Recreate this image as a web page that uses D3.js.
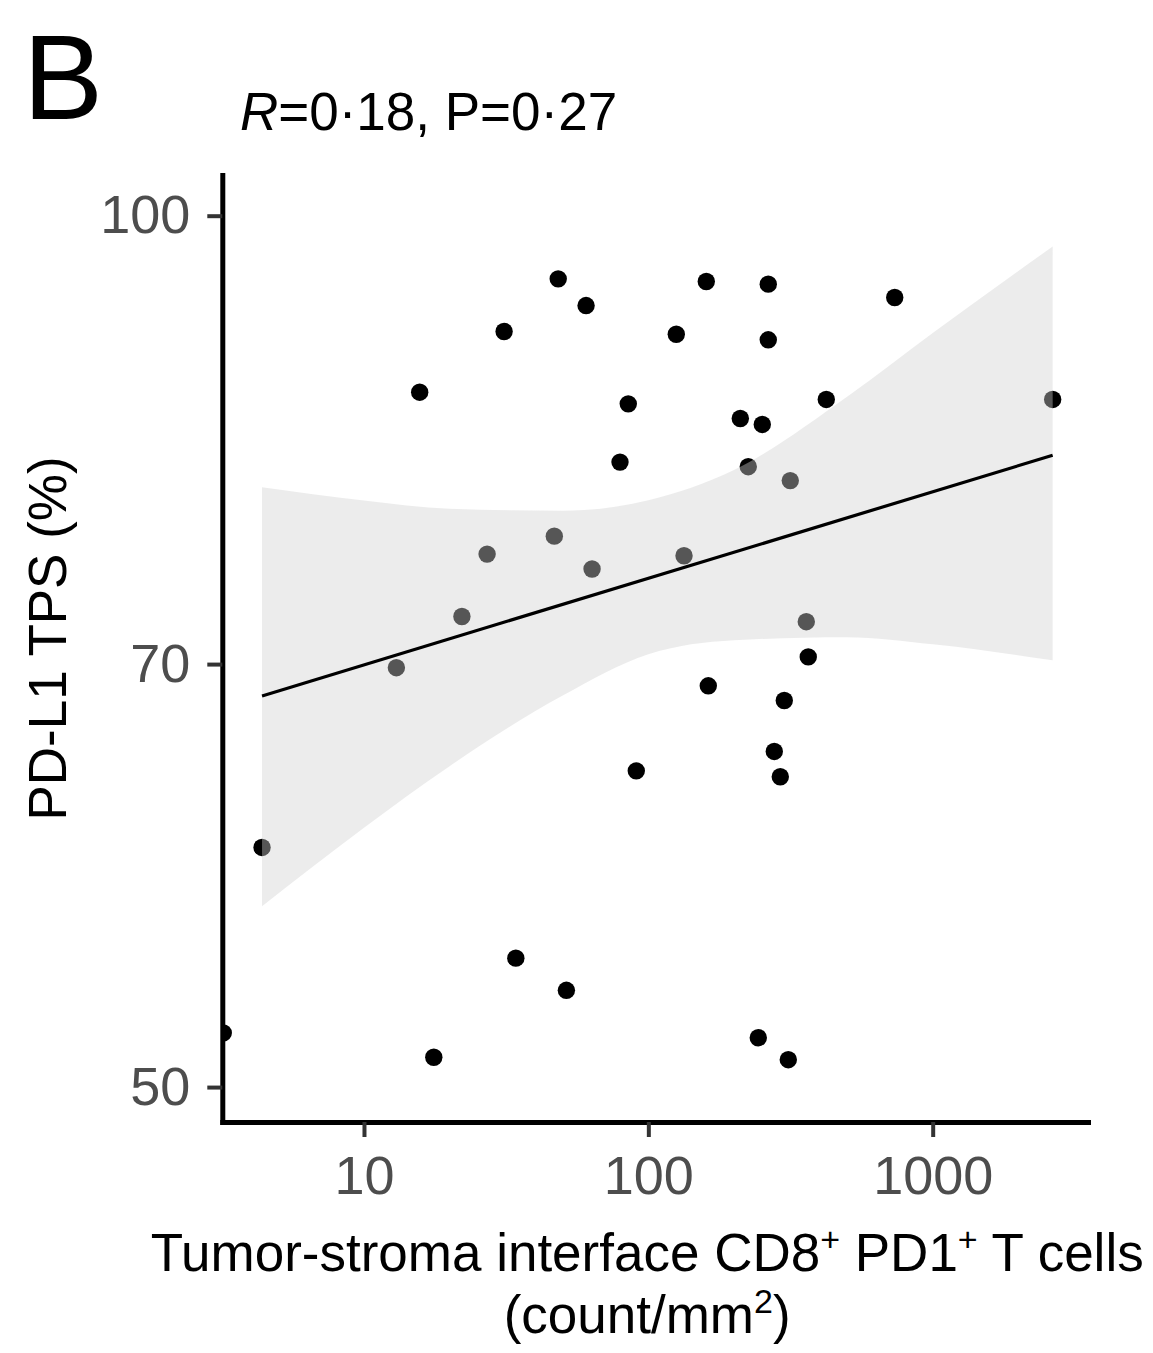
<!DOCTYPE html>
<html>
<head>
<meta charset="utf-8">
<script src="https://cdn.jsdelivr.net/npm/d3@7"></script>
<style>
  html, body { margin: 0; padding: 0; background: #fff; }
  svg { display: block; font-family: "Liberation Sans", Arial, sans-serif; }
</style>
</head>
<body>
<svg id="chart" width="1153" height="1353"></svg>
<script>
// ---- Data ----
// x: tumor-stroma interface CD8+ PD1+ T cells (count/mm2), y: PD-L1 TPS (%)
const cellDensity = [48.2, 159.9, 264.1, 735.3, 60.4, 31.1, 125.4, 264.1, 15.7, 85.0,
  422.5, 2642, 210.6, 251.6, 79.5, 224.6, 315.6, 46.7, 27.1, 133.5,
  63.4, 22.1, 359.3, 13.0, 365.1, 162.5, 300.7, 277.3, 90.7, 291.1,
  4.38, 34.2, 51.5, 3.2, 243.6, 17.6, 310.6];
const tpsPercent = [95.1, 94.9, 94.7, 93.7, 93.1, 91.2, 91.0, 90.6, 86.9, 86.1,
  86.4, 86.4, 85.1, 84.7, 82.2, 81.9, 81.0, 77.5, 76.4, 76.3,
  75.5, 72.7, 72.4, 69.8, 70.4, 68.8, 68.0, 65.3, 64.3, 64.0,
  60.5, 55.4, 54.0, 52.2, 52.0, 51.2, 51.1];

// regression line end points and confidence band
const fitX = [4.38, 2642];
const fitY = [68.25, 82.65];
const bandX    = [4.38, 10, 20, 50, 100, 200, 500, 1000, 2642];
const bandLow  = [57.74, 61.46, 64.54, 68.27, 70.55, 71.34, 71.51, 71.11, 70.21];
const bandHigh = [80.58, 79.73, 79.20, 79.08, 79.75, 81.69, 86.59, 91.09, 97.58];

const xTicks = [10, 100, 1000];
const yTicks = [50, 70, 100];
const xDomain = [3.175, 3517];
const yDomain = [48.63, 103.29];

const statLabel = { r: "0·18", p: "0·27" };
const panelLetter = "B";

(function () {
// ---- Layout ----
const pLeft = 222.3, pRight = 1088, pTop = 175, pBottom = 1122;
const svg = d3.select("#chart");

const x = d3.scaleLog().domain(xDomain).range([pLeft, pRight]);
const y = d3.scaleLog().domain(yDomain).range([pBottom, pTop]);

const points = cellDensity.map((v, i) => ({ x: v, y: tpsPercent[i] }));
const band = bandX.map((v, i) => ({ x: v, lo: bandLow[i], hi: bandHigh[i] }));
const fit = fitX.map((v, i) => ({ x: v, y: fitY[i] }));

svg.append("defs").append("clipPath").attr("id", "panel")
  .append("rect").attr("x", pLeft).attr("y", pTop)
  .attr("width", pRight - pLeft).attr("height", pBottom - pTop);

const panel = svg.append("g").attr("clip-path", "url(#panel)");

// points first (ribbon drawn over them, as in ggplot)
panel.selectAll("circle").data(points).enter().append("circle")
  .attr("cx", d => x(d.x)).attr("cy", d => y(d.y))
  .attr("r", 8.7).attr("fill", "#000");

// confidence ribbon
panel.append("path").datum(band)
  .attr("d", d3.area().x(d => x(d.x)).y0(d => y(d.lo)).y1(d => y(d.hi))
    .curve(d3.curveMonotoneX))
  .attr("fill", "#d0d0d0").attr("fill-opacity", 0.41);

// regression line
panel.append("path").datum(fit)
  .attr("d", d3.line().x(d => x(d.x)).y(d => y(d.y)))
  .attr("fill", "none").attr("stroke", "#000").attr("stroke-width", 3.2);

// ---- Axes ----
const fmt = d3.format("d");
const yAxis = svg.append("g").attr("transform", `translate(${pLeft},0)`)
  .call(d3.axisLeft(y).tickValues(yTicks).tickFormat(fmt).tickSize(15).tickSizeOuter(0).tickPadding(17));
const xAxis = svg.append("g").attr("transform", `translate(0,${pBottom})`)
  .call(d3.axisBottom(x).tickValues(xTicks).tickFormat(fmt).tickSize(15).tickSizeOuter(0).tickPadding(19));

[xAxis, yAxis].forEach(ax => {
  ax.select(".domain").attr("stroke", "#000").attr("stroke-width", 5)
    .attr("stroke-linecap", "square");
  ax.selectAll(".tick line").attr("stroke", "#333").attr("stroke-width", 4);
  ax.selectAll(".tick text").attr("fill", "#4d4d4d")
    .style("font-size", "54px").style("font-family", "'Liberation Sans', Arial, sans-serif");
});

// ---- Texts ----
svg.append("text").attr("x", 23).attr("y", 119)
  .style("font-size", "120px").attr("fill", "#000").text(panelLetter);

const st = svg.append("text").attr("x", 240).attr("y", 130)
  .style("font-size", "53px").attr("fill", "#000");
st.append("tspan").style("font-style", "italic").text("R");
st.append("tspan").text(`=${statLabel.r}, P=${statLabel.p}`);

// y axis title
svg.append("text")
  .attr("transform", `translate(66,${(pTop + pBottom) / 2 - 10}) rotate(-90)`)
  .attr("text-anchor", "middle").style("font-size", "53px").attr("fill", "#000")
  .text("PD-L1 TPS (%)");

// x axis title (two lines with superscripts)
const cx = (pLeft + pRight) / 2 - 8;
const t1 = svg.append("text").attr("x", cx).attr("y", 1271)
  .attr("text-anchor", "middle").style("font-size", "53px").attr("fill", "#000");
t1.append("tspan").text("Tumor-stroma interface CD8");
t1.append("tspan").attr("dy", -20).style("font-size", "34px").text("+");
t1.append("tspan").attr("dy", 20).text(" PD1");
t1.append("tspan").attr("dy", -20).style("font-size", "34px").text("+");
t1.append("tspan").attr("dy", 20).text(" T cells");

const t2 = svg.append("text").attr("x", cx).attr("y", 1333)
  .attr("text-anchor", "middle").style("font-size", "53px").attr("fill", "#000");
t2.append("tspan").text("(count/mm");
t2.append("tspan").attr("dy", -20).style("font-size", "34px").text("2");
t2.append("tspan").attr("dy", 20).text(")");
})();
</script>
</body>
</html>
